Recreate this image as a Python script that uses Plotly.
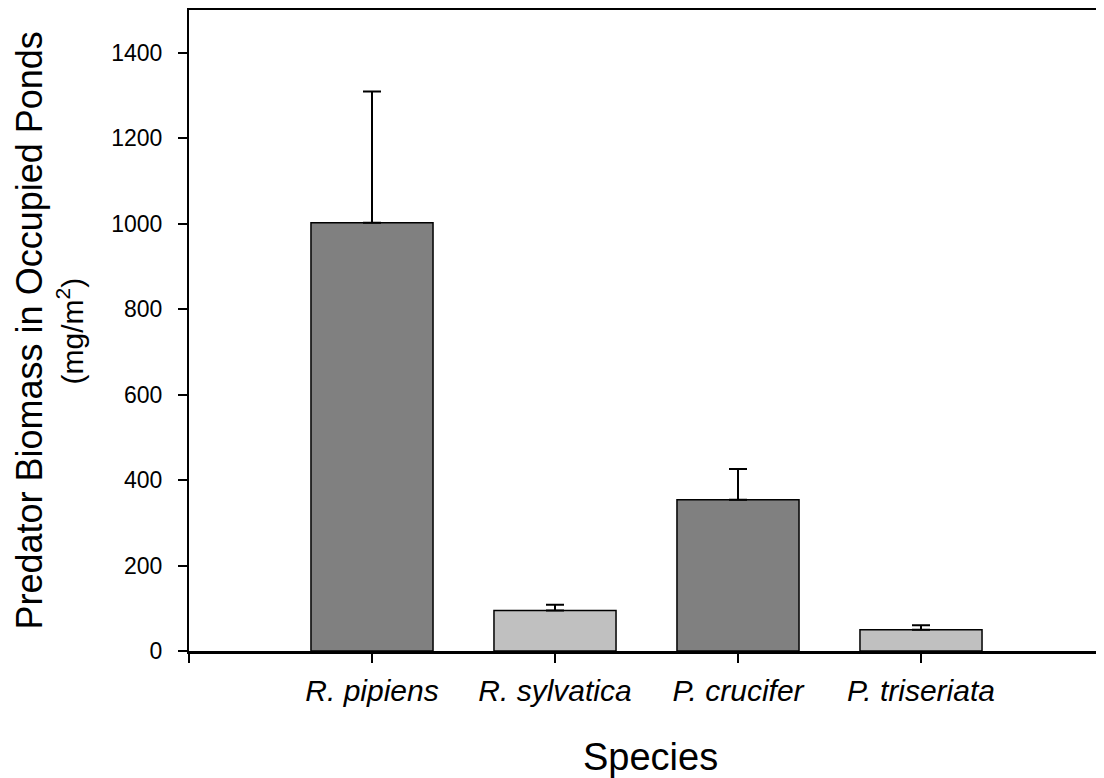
import plotly.graph_objects as go

species = ["R. pipiens", "R. sylvatica", "P. crucifer", "P. triseriata"]
positions = [1, 2, 3, 4]
biomass = [1002, 95, 354, 50]
error_up = [307, 13, 72, 10]
bar_colors = ["#808080", "#c0c0c0", "#808080", "#c0c0c0"]
y_ticks = [0, 200, 400, 600, 800, 1000, 1200, 1400]

font_family = "Liberation Sans, Arial, sans-serif"

# The page body adds an 8px margin; the figure is sized to fit the window.
W, H = 1096, 770
L, T, B, R = 181, 2, 127, 0
PW, PH = W - L - R, H - T - B

fig = go.Figure()
fig.add_trace(go.Bar(
    x=positions, y=biomass, width=0.667,
    marker=dict(color=bar_colors, line=dict(color="black", width=1.5)),
    error_y=dict(type="data", symmetric=False, array=error_up,
                 arrayminus=[0] * len(biomass), color="black",
                 thickness=2, width=9),
    showlegend=False,
))

fig.update_layout(
    width=W, height=H,
    margin=dict(l=L, r=R, t=T, b=B),
    paper_bgcolor="white", plot_bgcolor="white",
    font=dict(family=font_family, color="black"),
    xaxis=dict(
        range=[0, 5], tickvals=[0] + positions,
        ticktext=[""] + [f"<i>{s}</i>" for s in species],
        ticks="outside", ticklen=9, tickwidth=2, tickcolor="black",
        showline=True, linecolor="black", linewidth=2.5, mirror=True,
        showgrid=False, zeroline=False, ticklabelstandoff=2,
        tickfont=dict(size=30, family=font_family),
    ),
    yaxis=dict(
        range=[0, 1500], tickvals=y_ticks,
        ticks="outside", ticklen=9, tickwidth=1.5, tickcolor="black",
        showline=True, linecolor="black", linewidth=2,
        showgrid=False, zeroline=False, ticklabelstandoff=11,
        tickfont=dict(size=23, family=font_family),
    ),
)

fig.add_annotation(text="Predator Biomass in Occupied Ponds", textangle=-90,
                   xref="paper", yref="paper", x=(21 - L) / PW, y=0.5,
                   xanchor="center", yanchor="middle", showarrow=False,
                   font=dict(size=36, family=font_family))
fig.add_annotation(text="(mg/m<sup>2</sup>)", textangle=-90,
                   xref="paper", yref="paper", x=(62 - L) / PW, y=0.5,
                   xanchor="center", yanchor="middle", showarrow=False,
                   font=dict(size=30, family=font_family))
fig.add_annotation(text="Species", xref="paper", yref="paper",
                   x=(642 - L) / PW, y=(PH + T - 749) / PH,
                   xanchor="center", yanchor="middle", showarrow=False,
                   font=dict(size=38, family=font_family))

fig.write_html("out.html")
